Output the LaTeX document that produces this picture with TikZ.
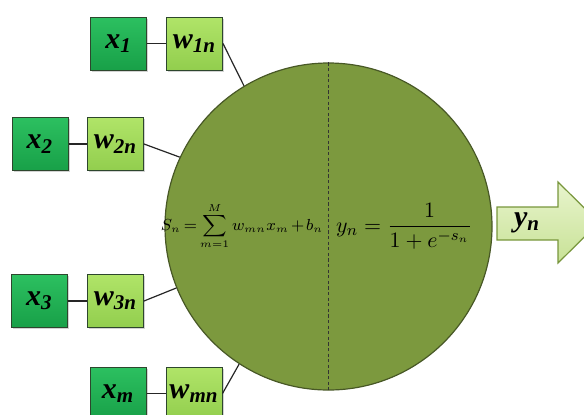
\documentclass[tikz,border=0pt]{standalone}
\usepackage{amsmath}
\usepackage{fontspec}
\setmainfont{Liberation Serif}
\newfontfamily\boxfont{Liberation Serif}[BoldItalicFont={* Bold Italic}]
\usepackage{xcolor}
\usepackage{tikz}
\usetikzlibrary{shadows}
\definecolor{neurongreen}{RGB}{124,153,62}
\definecolor{neuronedge}{RGB}{72,88,38}
\definecolor{edgegray}{RGB}{45,70,45}
\newcommand{\boxlbl}[2]{#1\textsubscript{#2}}

\tikzset{
  inbox/.style={draw=edgegray,line width=0.5pt,inner sep=0pt,
    minimum width=28pt,minimum height=26.5pt,
    top color={rgb,255:red,44;green,192;blue,96},bottom color={rgb,255:red,24;green,160;blue,72},
    font=\boxfont\fontsize{15}{18}\selectfont\bfseries\itshape,
    drop shadow={shadow xshift=0.8pt,shadow yshift=-0.8pt,opacity=0.35}},
  wbox/.style={inbox,
    top color={rgb,255:red,176;green,228;blue,104},bottom color={rgb,255:red,146;green,206;blue,78}},
  link/.style={line width=0.6pt,black!85},
}

\begin{document}
\begin{tikzpicture}[x=0.5pt,y=-0.5pt]
\useasboundingbox (0,0) rectangle (584,414);
\clip (0,0) rectangle (584,414);
% neuron
\node[circle,draw=neuronedge,line width=0.6pt,fill=neurongreen,minimum size=163.5pt,inner sep=0pt] (neuron) at (328.5,226.5) {};
\draw[dash pattern=on 1.6pt off 1.2pt,line width=0.5pt,black!80] (neuron.north) -- (neuron.south);
\node[inner sep=0pt] (sum) at (242,226) {\fontsize{7.6}{9}\selectfont\thickmuskip=3mu\medmuskip=2mu$\displaystyle S_n=\sum_{m=1}^{M}w_{mn}x_m+b_n$};
\node[inner sep=0pt] (act) at (404,226) {\fontsize{11}{13}\selectfont$\displaystyle y_n=\frac{1}{1+e^{-s_n}}$};
% inputs and weights
\node[inbox] (x1) at (118.5,43.5) {\boxlbl{x}{1}};
\node[wbox] (w1n) at (194.5,43.5) {\boxlbl{w}{1n}};
\node[inbox] (x2) at (40,144) {\boxlbl{x}{2}};
\node[wbox] (w2n) at (115.5,144) {\boxlbl{w}{2n}};
\node[inbox] (x3) at (39.5,301) {\boxlbl{x}{3}};
\node[wbox] (w3n) at (115.5,301) {\boxlbl{w}{3n}};
\node[inbox] (xm) at (118,393.5) {\boxlbl{x}{m}};
\node[wbox] (wmn) at (194,393.5) {\boxlbl{w}{mn}};
\draw[link] (x1)--(w1n) (x2)--(w2n) (x3)--(w3n) (xm)--(wmn);
\draw[link] (w1n.east)--(neuron.121);
\draw[link] (w2n.east)--(neuron.155);
\draw[link] (w3n.east)--(neuron.202);
\draw[link] (wmn.east)--(neuron.237);
% output arrow
\shade[draw={rgb,255:red,120;green,150;blue,60},line width=0.6pt,
  top color={rgb,255:red,232;green,244;blue,205},bottom color={rgb,255:red,200;green,226;blue,150}]
  (497,207)--(558,207)--(558,182)--(599,222.5)--(558,263)--(558,240)--(497,240)--cycle;
\node[font=\boxfont\fontsize{15}{18}\selectfont\bfseries\itshape] (yout) at (527,223) {\boxlbl{y}{n}};
\end{tikzpicture}
\end{document}
